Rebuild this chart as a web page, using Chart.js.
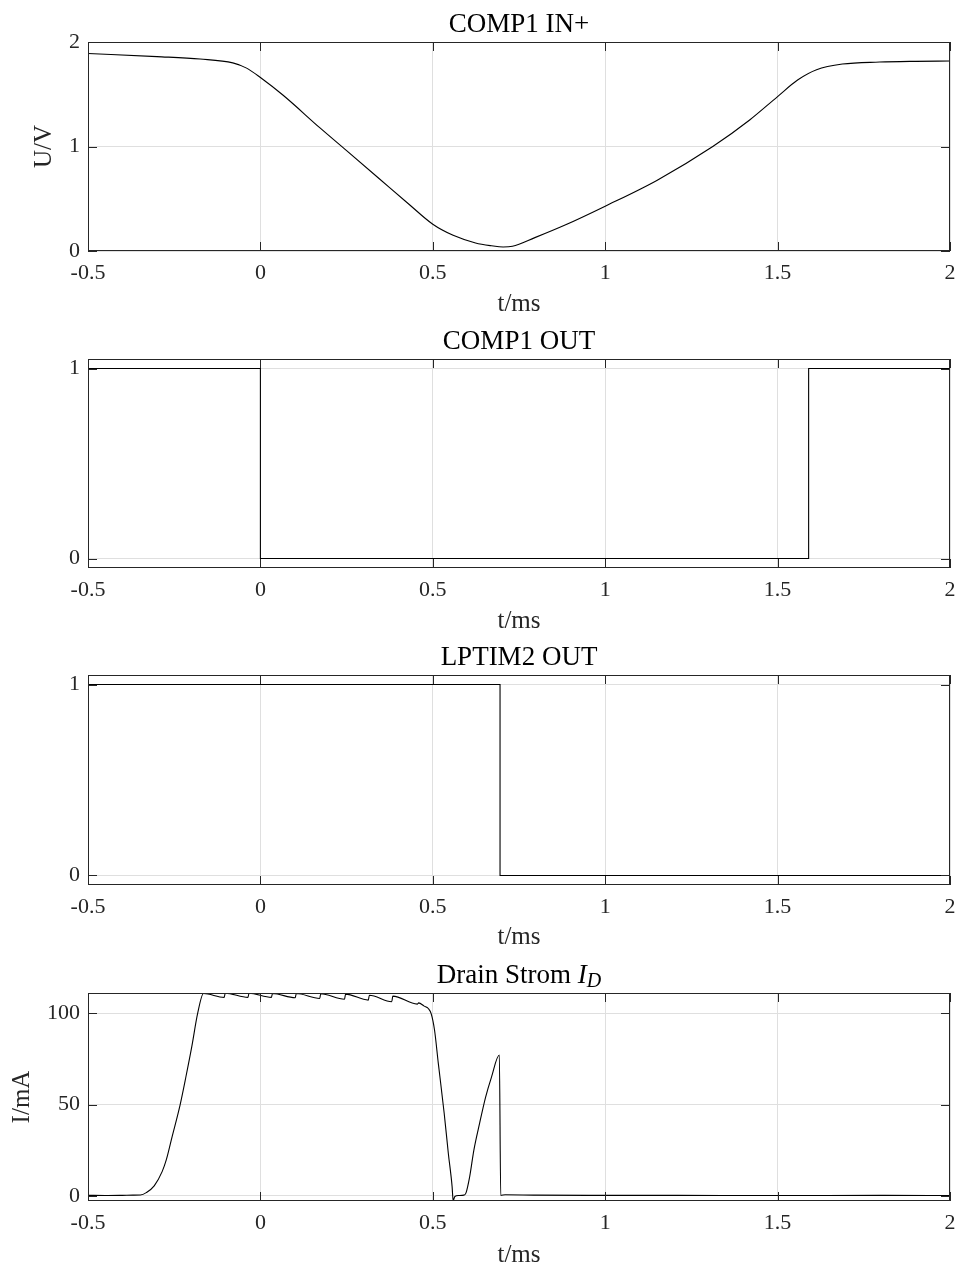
<!DOCTYPE html>
<html>
<head>
<meta charset="utf-8">
<script src="https://cdn.jsdelivr.net/npm/chart.js@4.4.1/dist/chart.umd.min.js"></script>
<style>
	body { margin: 0; background: #fff; }
	#page { position: relative; width: 960px; height: 1271px; overflow: hidden; }
	.panel { position: absolute; left: 0; width: 960px; height: 318px; }
</style>
</head>
<body>
<div id="page">
	<div class="panel" style="top:0px"><canvas id="comp1in" width="960" height="318"></canvas></div>
	<div class="panel" style="top:317px"><canvas id="comp1out" width="960" height="318"></canvas></div>
	<div class="panel" style="top:633px"><canvas id="lptim2out" width="960" height="318"></canvas></div>
	<div class="panel" style="top:951px"><canvas id="drain" width="960" height="318"></canvas></div>
</div>
<script>

// shared time axis (ms)
var xTicks = [-0.5, 0, 0.5, 1, 1.5, 2];

// COMP1 IN+ (V)
var comp1InT = [-0.5, -0.3, -0.175, -0.08, -0.04, 0, 0.066, 0.172, 0.25, 0.344, 0.43, 0.5, 0.559, 0.624, 0.67, 0.704, 0.731, 0.796, 0.882, 1.0, 1.151, 1.312, 1.419, 1.5, 1.559, 1.613, 1.688, 1.796, 1.9, 2.0];
var comp1InU = [1.89, 1.86, 1.837, 1.80, 1.75, 1.66, 1.49, 1.18, 0.96, 0.694, 0.45, 0.256, 0.150, 0.077, 0.05, 0.038, 0.045, 0.128, 0.246, 0.429, 0.678, 1.0, 1.254, 1.478, 1.638, 1.734, 1.789, 1.808, 1.815, 1.818];
var comp1InTicks = [0, 1, 2];

// COMP1 OUT (logic level)
var comp1OutT = [-0.5, 0, 0, 1.59, 1.59, 2];
var comp1OutLevel = [1, 1, 0, 0, 1, 1];

// LPTIM2 OUT (logic level)
var lptimT = [-0.5, 0.695, 0.695, 2];
var lptimLevel = [1, 1, 0, 0];
var levelTicks = [0, 1];

// Drain Strom I_D (mA)
var drainT = [-0.5, -0.45, -0.4, -0.37, -0.348, -0.331, -0.308, -0.285, -0.273, -0.256, -0.233, -0.216, -0.199, -0.182, -0.165,
	-0.105, -0.102, -0.036, -0.033, 0.032, 0.035, 0.101, 0.104, 0.172, 0.175, 0.244, 0.247, 0.313, 0.316, 0.381, 0.384, 0.455, 0.459,
	0.475, 0.487, 0.495, 0.505, 0.516, 0.533, 0.545, 0.556, 0.559, 0.564, 0.575, 0.59, 0.596, 0.607, 0.619, 0.636, 0.653, 0.670, 0.693, 0.697,
	0.71, 0.8, 1.0, 1.2, 1.5, 1.8, 2.0];
var drainI = [0.3, 0.2, 0.3, 0.4, 0.5, 1.8, 5.5, 13.3, 19.7, 32.5, 49.8, 65.3, 81.8, 100, 110.9,
	108.8, 111.1, 108.8, 111.1, 108.8, 110.9, 108.6, 110.9, 108.2, 110.8, 107.8, 110.6, 107.3, 110.0, 106.4, 109.5, 105.1, 105.8,
	104.0, 102.7, 100, 90.9, 72.6, 45.3, 23.4, 5.1, -2.6, -0.3, 0.2, 0.4, 1.5, 10.6, 25, 40, 54, 65, 77.2, 0.3,
	0.6, 0.4, 0.3, 0.3, 0.2, 0.3, 0.2];
var drainTicks = [0, 50, 100];


var FONT = "'Liberation Serif', 'DejaVu Serif', serif";
var AXIS_COLOR = '#262626';
var GRID_COLOR = '#dfdfdf';
var TICK_LEN = 9;

function toPoints(xs, ys){
	return xs.map(function(x, i){ return { x: x, y: ys[i] }; });
}

// matlab style box, inward ticks and title (with italic / subscript parts)
var axesFrame = {
	id: 'axesFrame',
	afterDatasetsDraw: function(chart){
		var ctx = chart.ctx;
		var a = chart.chartArea;
		var xs = chart.scales.x, ys = chart.scales.y;
		ctx.save();
		ctx.strokeStyle = AXIS_COLOR;
		ctx.lineWidth = 1;
		ctx.strokeRect(a.left + 0.5, a.top + 0.5, a.right - a.left - 1, a.bottom - a.top - 1);
		ctx.beginPath();
		xs.ticks.forEach(function(t){
			var p = Math.round(xs.getPixelForValue(t.value)) + 0.5;
			ctx.moveTo(p, a.bottom); ctx.lineTo(p, a.bottom - TICK_LEN);
			ctx.moveTo(p, a.top); ctx.lineTo(p, a.top + TICK_LEN);
		});
		ys.ticks.forEach(function(t){
			var p = Math.round(ys.getPixelForValue(t.value)) + 0.5;
			ctx.moveTo(a.left, p); ctx.lineTo(a.left + TICK_LEN, p);
			ctx.moveTo(a.right, p); ctx.lineTo(a.right - TICK_LEN, p);
		});
		ctx.stroke();
		ctx.restore();
	},
	afterDraw: function(chart, args, opts){
		var ctx = chart.ctx;
		var a = chart.chartArea;
		var parts = opts.parts || [];
		var fonts = [], widths = [], total = 0;
		ctx.save();
		parts.forEach(function(p, i){
			var size = p.sub ? 20 : 27;
			fonts[i] = (p.italic ? 'italic ' : '') + size + 'px ' + FONT;
			ctx.font = fonts[i];
			widths[i] = ctx.measureText(p.text).width;
			total += widths[i];
		});
		var x = (a.left + a.right) / 2 - total / 2;
		var base = a.top - 10;
		ctx.fillStyle = '#000';
		ctx.textBaseline = 'alphabetic';
		ctx.textAlign = 'left';
		parts.forEach(function(p, i){
			ctx.font = fonts[i];
			ctx.fillText(p.text, x, base + (p.sub ? 4 : 0));
			x += widths[i];
		});
		ctx.restore();
	}
};

function init_panel(id, xs, ys, yMin, yMax, yTicks, yTitle, yTitlePad, titleParts, areaHeight, smooth){

	var xAxisHeight = 318 - 42 - areaHeight;

	var settings = {
		type: 'line',
		data: {
			datasets: [{
				data: toPoints(xs, ys),
				borderColor: '#000',
				borderWidth: 1.1,
				pointRadius: 0,
				fill: false,
				cubicInterpolationMode: smooth ? 'monotone' : 'default',
				tension: 0,
				borderJoinStyle: 'miter'
			}]
		},
		options: {
			responsive: false,
			animation: false,
			devicePixelRatio: 1,
			layout: { padding: { left: 0, right: 10, top: 42, bottom: 0 } },
			plugins: {
				legend: { display: false },
				tooltip: { enabled: false },
				axesFrame: { parts: titleParts }
			},
			scales: {
				x: {
					type: 'linear',
					min: -0.5,
					max: 2,
					afterBuildTicks: function(scale){ scale.ticks = xTicks.map(function(v){ return { value: v }; }); },
					afterFit: function(scale){
						scale.height = xAxisHeight;
						scale.paddingLeft = 0;
						scale.paddingRight = 0;
					},
					ticks: {
						autoSkip: false,
						maxRotation: 0,
						padding: 9,
						color: AXIS_COLOR,
						font: { family: FONT, size: 22 },
						callback: function(v){ return String(v); }
					},
					grid: { color: GRID_COLOR, drawTicks: false },
					border: { display: false },
					title: {
						display: true,
						text: 't/ms',
						color: AXIS_COLOR,
						font: { family: FONT, size: 25, lineHeight: 1 },
						padding: { top: 0, bottom: 1 }
					}
				},
				y: {
					type: 'linear',
					min: yMin,
					max: yMax,
					afterBuildTicks: function(scale){ scale.ticks = yTicks.map(function(v){ return { value: v }; }); },
					afterFit: function(scale){ scale.width = 88; },
					ticks: {
						padding: 8,
						color: AXIS_COLOR,
						font: { family: FONT, size: 22 },
						callback: function(v){ return String(v); }
					},
					grid: { color: GRID_COLOR, drawTicks: false },
					border: { display: false },
					title: {
						display: yTitle !== '',
						text: yTitle,
						color: AXIS_COLOR,
						font: { family: FONT, size: 25, lineHeight: 1 },
						padding: { top: yTitlePad, bottom: 0 }
					}
				}
			}
		},
		plugins: [axesFrame]
	};

	return new Chart(document.getElementById(id), settings);
}

init_panel('comp1in', comp1InT, comp1InU, 0, 2, comp1InTicks, 'U/V', 32, [{ text: 'COMP1 IN+' }], 209, true);
init_panel('comp1out', comp1OutT, comp1OutLevel, -0.05, 1.05, levelTicks, '', 0, [{ text: 'COMP1 OUT' }], 209, false);
init_panel('lptim2out', lptimT, lptimLevel, -0.05, 1.05, levelTicks, '', 0, [{ text: 'LPTIM2 OUT' }], 210, false);
init_panel('drain', drainT, drainI, -2.8, 111.2, drainTicks, 'I/mA', 10, [{ text: 'Drain Strom ' }, { text: 'I', italic: true }, { text: 'D', italic: true, sub: true }], 208, true);

</script>
</body>
</html>
